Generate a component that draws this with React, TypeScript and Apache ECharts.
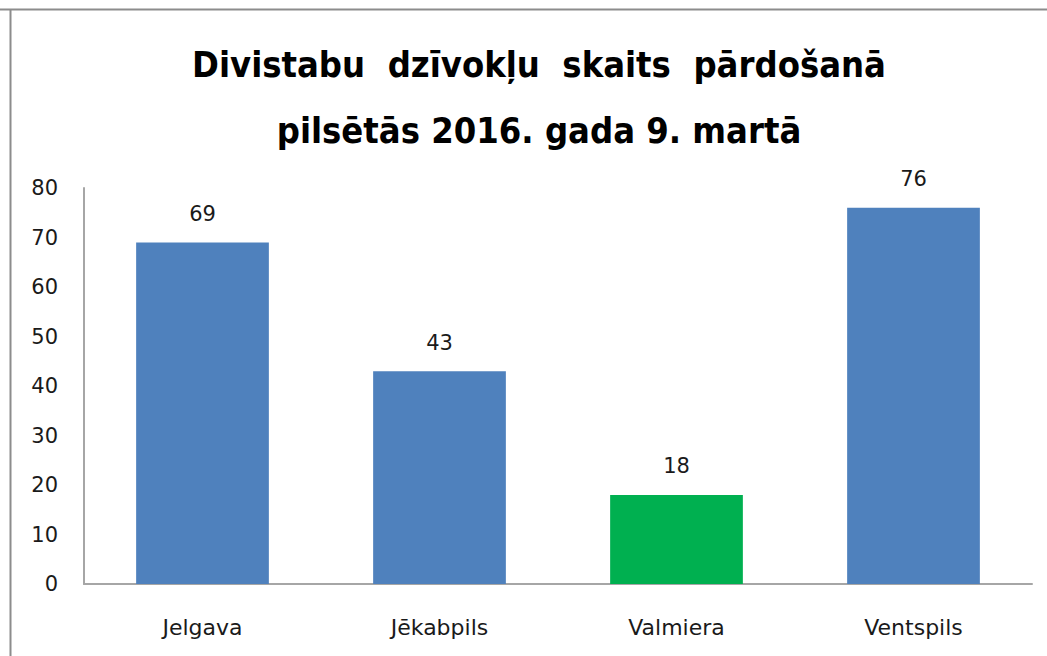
import React, { useEffect, useRef } from "react";
import * as echarts from "echarts";

const categories = ["Jelgava", "Jēkabpils", "Valmiera", "Ventspils"];
const values = [69, 43, 18, 76];
const barColors = ["#4F81BD", "#4F81BD", "#00B050", "#4F81BD"];
const titleLines = ["Divistabu  dzīvokļu  skaits  pārdošanā", "pilsētās 2016. gada 9. martā"];

export default function App() {
  const ref = useRef<HTMLDivElement>(null);
  useEffect(() => {
    if (!ref.current) return;
    const chart = echarts.init(ref.current, null, { renderer: "svg" });
    chart.setOption({
      animation: false,
      backgroundColor: "#ffffff",
      title: {
        text: titleLines.join("\n"),
        left: 534,
        textAlign: "center",
        top: 26,
        textStyle: {
          fontFamily: "'Liberation Sans Narrow', 'DejaVu Sans Condensed', 'Open Sans'",
          fontWeight: "bold",
          fontSize: 36,
          lineHeight: 66,
          color: "#000",
        },
      },
      graphic: [
        { type: "line", shape: { x1: 0, y1: 9.5, x2: 1047, y2: 9.5 }, style: { stroke: "#8c8c8c", lineWidth: 2 } },
        { type: "line", shape: { x1: 10.5, y1: 9, x2: 10.5, y2: 656 }, style: { stroke: "#8c8c8c", lineWidth: 2 } },
      ],
      grid: { left: 84, right: 15, top: 188, bottom: 72, containLabel: false },
      xAxis: {
        type: "category",
        data: categories,
        axisLine: { lineStyle: { color: "#A6A6A6", width: 2 } },
        axisTick: { show: false },
        axisLabel: { color: "#1a1a1a", fontFamily: "DejaVu Sans", fontSize: 22, margin: 32 },
      },
      yAxis: {
        type: "value",
        min: 0,
        max: 80,
        interval: 10,
        axisLine: { show: true, lineStyle: { color: "#A6A6A6", width: 2 } },
        axisTick: { show: false },
        splitLine: { show: false },
        axisLabel: { color: "#1a1a1a", fontFamily: "DejaVu Sans", fontSize: 21, margin: 26 },
      },
      series: [
        {
          type: "bar",
          data: values.map((v, i) => ({ value: v, itemStyle: { color: barColors[i] } })),
          barWidth: "56%",
          label: {
            show: true,
            position: "top",
            distance: 18,
            color: "#1a1a1a",
            fontFamily: "DejaVu Sans",
            fontSize: 21,
          },
        },
      ],
    });
    return () => chart.dispose();
  }, []);
  return (
    <div
      ref={ref}
      style={{ position: "fixed", left: 0, top: 0, width: 1047, height: 656 }}
    />
  );
}
